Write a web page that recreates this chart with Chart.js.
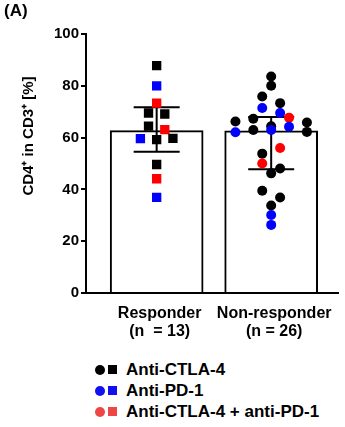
<!DOCTYPE html>
<html lang="en">
<head>
  <meta charset="UTF-8">
  <title>CD4+ in CD3+</title>
  <script src="https://cdn.jsdelivr.net/npm/chart.js"></script>
  <style>
    body {
      margin: 0;
      background: #fff;
      font-family: "Liberation Sans", Arial, sans-serif;
    }
    #wrap {
      position: relative;
      width: 345px;
      height: 427px;
    }
    #chartBox {
      position: absolute;
      left: 0;
      top: 0;
      width: 345px;
      height: 340px;
    }
    /* panel letter */
    #panel {
      position: absolute;
      left: 4px;
      top: 1px;
      font-weight: bold;
      font-size: 17px;
    }
    /* legend under the chart */
    #legend {
      position: absolute;
      left: 95px;
      top: 359px;
      font-weight: bold;
      font-size: 17px;
      line-height: 21px;
    }
    .row { display: flex; align-items: center; height: 21px; }
    .dot { width: 10px; height: 10px; border-radius: 50%; margin-right: 3px; }
    .sq { width: 9px; height: 9px; margin-right: 9px; }
  </style>
</head>
<body>
<div id="wrap">
  <div id="chartBox"><canvas id="myChart"></canvas></div>
  <div id="panel">(A)</div>
  <div id="legend"></div>
</div>

<script>
  // 数据
  const groups = ['Responder', 'Non-responder'];
  const groupN = ['(n  = 13)', '(n = 26)'];
  const treatments = ['Anti-CTLA-4', 'Anti-PD-1', 'Anti-CTLA-4 + anti-PD-1'];
  const barValues = [62.7, 62.6];
  const errHigh = [71.7, 68.0];
  const errLow = [54.5, 47.8];
  const yTicks = [0, 20, 40, 60, 80, 100];

  // 每个点的数值和治疗方式 (0 = CTLA-4, 1 = PD-1, 2 = 联合)
  const responderValues = [87.8, 80.0, 73.3, 69.5, 69.1, 64.4, 63.1, 59.6, 59.2, 59.7, 49.6, 44.1, 36.9];
  const responderTreatment = [0, 1, 2, 0, 0, 0, 2, 1, 0, 0, 0, 2, 1];
  const nonResponderValues = [83.6, 80.0, 75.9, 73.3, 71.4, 69.5, 66.2, 67.3, 64.4, 67.7, 65.8,
    62.1, 62.9, 62.9, 64.2, 62.2, 53.8, 56.0, 50.0, 48.1, 46.2, 39.5, 36.9, 33.8, 30.1, 26.3];
  const nonResponderTreatment = [0, 0, 0, 0, 1, 1, 0, 0, 0, 2, 0,
    1, 0, 1, 1, 0, 0, 2, 2, 0, 0, 0, 0, 0, 1, 1];

  const pointColors = ['#000000', '#0000ff', '#ff0000'];
  const legendColors = ['#000000', '#1010f0', '#f04545'];

  // 简单的蜂群排列：按数值分行，行内对称摆放
  function swarm(values, center, step, bin) {
    const order = values.map((v, i) => i).sort((a, b) => values[b] - values[a]);
    const xs = new Array(values.length);
    let k = 0;
    while (k < order.length) {
      const row = [order[k]];
      let j = k + 1;
      while (j < order.length && values[order[k]] - values[order[j]] < bin) {
        row.push(order[j]);
        j++;
      }
      row.sort((a, b) => a - b);
      row.forEach((p, n) => { xs[p] = center + (n - (row.length - 1) / 2) * 2 * step; });
      k = j;
    }
    return values.map((v, i) => ({ x: xs[i], y: v }));
  }

  // 误差线
  const errorBars = {
    id: 'errorBars',
    afterDatasetDraw(chart, args) {
      if (args.index !== 0) return;
      const { ctx, scales: { x, y } } = chart;
      ctx.save();
      ctx.strokeStyle = '#000';
      ctx.lineWidth = 2;
      groups.forEach((g, i) => {
        const cx = x.getPixelForValue(i);
        const top = y.getPixelForValue(errHigh[i]);
        const bot = y.getPixelForValue(errLow[i]);
        ctx.beginPath();
        ctx.moveTo(cx, top); ctx.lineTo(cx, bot);
        ctx.moveTo(cx - 23, top); ctx.lineTo(cx + 23, top);
        ctx.moveTo(cx - 23, bot); ctx.lineTo(cx + 23, bot);
        ctx.stroke();
      });
      ctx.restore();
    }
  };

  // Y轴标题
  const yTitle = {
    id: 'yTitle',
    afterDraw(chart) {
      const ctx = chart.ctx;
      ctx.save();
      ctx.translate(29, 136);
      ctx.rotate(-Math.PI / 2);
      ctx.font = 'bold 15px "Liberation Sans", Arial, sans-serif';
      ctx.fillStyle = '#000';
      ctx.textAlign = 'center';
      ctx.textBaseline = 'middle';
      ctx.fillText('CD4\u207A in CD3\u207A [%]', 0, 0);
      ctx.restore();
    }
  };

  const ctx = document.getElementById('myChart').getContext('2d');
  const myChart = new Chart(ctx, {
    type: 'bar',
    data: {
      datasets: [
        {
          type: 'bar',
          data: barValues.map((v, i) => ({ x: i, y: v })),
          backgroundColor: '#ffffff',
          borderColor: '#000000',
          borderWidth: 2,
          borderSkipped: 'bottom',
          barThickness: 93,
          order: 2
        },
        {
          type: 'scatter',
          data: swarm(responderValues, 0, 0.071, 3.4),
          pointStyle: 'rect',
          pointRadius: 6.6,
          pointBorderWidth: 0,
          pointBackgroundColor: responderTreatment.map(t => pointColors[t]),
          order: 1
        },
        {
          type: 'scatter',
          data: swarm(nonResponderValues, 1, 0.078, 3.4),
          pointStyle: 'circle',
          pointRadius: 5,
          pointBorderWidth: 0,
          pointBackgroundColor: nonResponderTreatment.map(t => pointColors[t]),
          order: 1
        }
      ]
    },
    options: {
      responsive: true,
      maintainAspectRatio: false,
      animation: false,
      layout: { padding: { top: 34, right: 0, bottom: 0, left: 0 } },
      plugins: {
        legend: { display: false },
        tooltip: { enabled: false }
      },
      scales: {
        x: {
          type: 'linear',
          min: -0.617,
          max: 1.587,
          offset: false,
          afterBuildTicks: scale => { scale.ticks = groups.map((g, i) => ({ value: i })); },
          afterFit: scale => { scale.height = 47; },
          ticks: {
            color: '#000',
            font: { family: '"Liberation Sans", Arial, sans-serif', size: 16, weight: 'bold', lineHeight: 1.1 },
            padding: 4,
            labelOffset: 3,
            maxRotation: 0,
            autoSkip: false,
            callback: value => [groups[value], groupN[value]]
          },
          grid: { display: false },
          border: { color: '#000', width: 2 }
        },
        y: {
          min: 0,
          max: 100,
          afterBuildTicks: scale => { scale.ticks = yTicks.map(v => ({ value: v })); },
          afterFit: scale => { scale.width = 86; },
          ticks: {
            color: '#000',
            font: { family: '"Liberation Sans", Arial, sans-serif', size: 15, weight: 'bold' },
            padding: 2
          },
          grid: {
            drawOnChartArea: false,
            drawTicks: true,
            tickLength: 5,
            color: '#000',
            lineWidth: 2
          },
          border: { color: '#000', width: 2 }
        }
      }
    },
    plugins: [errorBars, yTitle]
  });

  // 图例
  const legend = document.getElementById('legend');
  treatments.forEach((t, i) => {
    const row = document.createElement('div');
    row.className = 'row';
    row.innerHTML = '<span class="dot" style="background:' + legendColors[i] + '"></span>' +
      '<span class="sq" style="background:' + legendColors[i] + '"></span>' +
      '<span>' + t + '</span>';
    legend.appendChild(row);
  });
</script>
</body>
</html>
